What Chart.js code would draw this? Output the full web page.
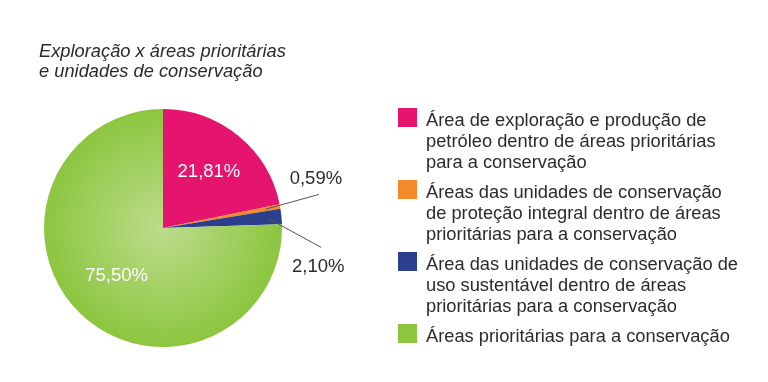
<!DOCTYPE html>
<html>
<head>
<meta charset="utf-8">
<script src="https://cdn.jsdelivr.net/npm/chart.js@4.4.0/dist/chart.umd.min.js"></script>
<style>
  body { margin: 0; background: #fff; }
  #wrap { position: relative; width: 768px; height: 382px; }
  #title { position: absolute; left: 39px; top: 41px; font: italic 18.3px "Liberation Sans", Arial, sans-serif; line-height: 20px; color: #2b2b2b; }
  #legend { position: absolute; left: 398px; top: 106px; font: 18.3px "Liberation Sans", Arial, sans-serif; line-height: 21px; color: #2b2b2b; }
  .item { position: relative; padding-left: 28px; margin-bottom: 9px; }
  .sq { position: absolute; left: 0; top: 2px; width: 19px; height: 19px; }
  .txt { position: relative; top: 3px; }
</style>
</head>
<body>
<div id="wrap">
  <canvas id="pie" width="768" height="382"></canvas>
  <div id="title">Exploração x áreas prioritárias<br>e unidades de conservação</div>
  <div id="legend"></div>
</div>
<script>
var labels = [
  ["Área de exploração e produção de", "petróleo dentro de áreas prioritárias", "para a conservação"],
  ["Áreas das unidades de conservação", "de proteção integral dentro de áreas", "prioritárias para a conservação"],
  ["Área das unidades de conservação de", "uso sustentável dentro de áreas", "prioritárias para a conservação"],
  ["Áreas prioritárias para a conservação"]
];
var values = [21.81, 0.59, 2.10, 75.50];
var valueLabels = ["21,81%", "0,59%", "2,10%", "75,50%"];
var colors = ["#e5146e", "#f58a2a", "#2b3f8c", "#8cc63f"];

// legend
var leg = document.getElementById("legend");
for (var i = 0; i < labels.length; i++) {
  var d = document.createElement("div");
  d.className = "item";
  d.innerHTML = '<span class="sq" style="background:' + colors[i] + '"></span><div class="txt">' + labels[i].join("<br>") + '</div>';
  leg.appendChild(d);
}

// inside labels: radius fraction; outside labels: angle shift of leader end (radians)
var labelPlace = [
  { inside: true, r: 0.61 },
  { inside: false, shift: -0.03, dy: -16 },
  { inside: false, shift: 0.22, dy: 19 },
  { inside: true, r: 0.56 }
];

var labelPlugin = {
  id: "sliceLabels",
  afterDatasetsDraw: function (chart) {
    var ctx = chart.ctx;
    var arcs = chart.getDatasetMeta(0).data;
    ctx.save();
    ctx.font = "18.5px 'Liberation Sans', Arial, sans-serif";
    ctx.textAlign = "center";
    ctx.textBaseline = "middle";
    arcs.forEach(function (arc, i) {
      var p = arc.getProps(["x", "y", "startAngle", "endAngle", "outerRadius"], true);
      var mid = (p.startAngle + p.endAngle) / 2;
      var pl = labelPlace[i];
      if (pl.inside) {
        ctx.fillStyle = "#ffffff";
        ctx.fillText(valueLabels[i], p.x + Math.cos(mid) * p.outerRadius * pl.r, p.y + Math.sin(mid) * p.outerRadius * pl.r);
      } else {
        var sx = p.x + Math.cos(mid) * p.outerRadius * 0.88;
        var sy = p.y + Math.sin(mid) * p.outerRadius * 0.88;
        var ea = mid + pl.shift;
        var ex = p.x + Math.cos(ea) * p.outerRadius * 1.34;
        var ey = p.y + Math.sin(ea) * p.outerRadius * 1.34;
        ctx.strokeStyle = "#555555";
        ctx.lineWidth = 1;
        ctx.beginPath();
        ctx.moveTo(sx, sy);
        ctx.lineTo(ex, ey);
        ctx.stroke();
        ctx.fillStyle = "#2b2b2b";
        ctx.fillText(valueLabels[i], ex - 3, ey + pl.dy);
      }
    });
    ctx.restore();
  }
};

new Chart(document.getElementById("pie"), {
  type: "pie",
  data: {
    labels: labels,
    datasets: [{
      data: values,
      borderWidth: 0,
      backgroundColor: function (c) {
        var area = c.chart.chartArea;
        if (!area || c.dataIndex !== 3) return colors[c.dataIndex];
        var cx = (area.left + area.right) / 2, cy = (area.top + area.bottom) / 2;
        var r = Math.min(area.right - area.left, area.bottom - area.top) / 2;
        var g = c.chart.ctx.createRadialGradient(cx, cy, 0, cx, cy, r);
        g.addColorStop(0, "#bcdc8c");
        g.addColorStop(1, "#8cc63f");
        return g;
      }
    }]
  },
  options: {
    responsive: false,
    animation: false,
    layout: { padding: { left: 44, top: 109, right: 486, bottom: 35 } },
    plugins: {
      legend: { display: false },
      tooltip: { enabled: false }
    }
  },
  plugins: [labelPlugin]
});
</script>
</body>
</html>
